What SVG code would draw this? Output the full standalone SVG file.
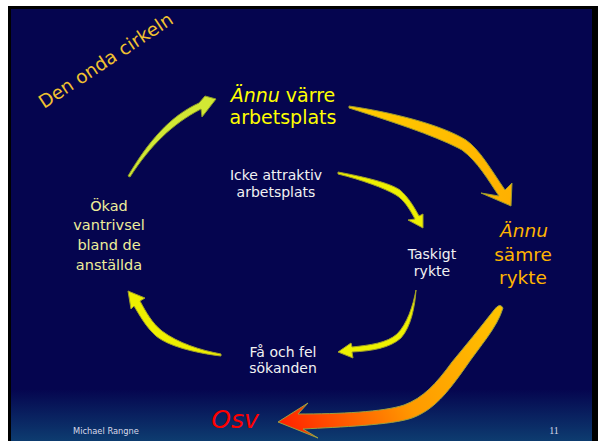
<svg xmlns="http://www.w3.org/2000/svg" width="598" height="441" viewBox="0 0 598 441">
<defs>
<linearGradient id="bg" x1="0" y1="0" x2="0" y2="1">
<stop offset="0" stop-color="#05054f"/>
<stop offset="0.88" stop-color="#05054f"/>
<stop offset="1" stop-color="#0d3c70"/>
</linearGradient>
<linearGradient id="gBig" gradientUnits="userSpaceOnUse" x1="500" y1="308" x2="280" y2="422">
<stop offset="0" stop-color="#ffc400"/>
<stop offset="0.5" stop-color="#ff9a00"/>
<stop offset="1" stop-color="#ff2200"/>
</linearGradient>
<linearGradient id="gTop" gradientUnits="userSpaceOnUse" x1="349" y1="107" x2="510" y2="205">
<stop offset="0" stop-color="#ffcc00"/>
<stop offset="1" stop-color="#ffb000"/>
</linearGradient>
<style>
.t{font-family:"DejaVu Sans","Liberation Sans",sans-serif;text-anchor:middle}
.w{fill:#f2f2f2;font-size:14px}
.pale{fill:#eeee9a;font-size:14.5px}
.yel{fill:#ffff00;font-size:19px}
.org{fill:#ffb400;font-size:18.5px}
.it{font-style:italic}
.ay{fill:#eef000;stroke:#a0a028;stroke-width:1}
.ag{fill:#d2e834;stroke:#8a9a2a;stroke-width:1}
</style>
</defs>
<rect x="0" y="0" width="598" height="441" fill="#ffffff"/>
<rect x="8" y="6" width="590" height="435" fill="#000000"/>
<rect x="11" y="9" width="581" height="432" fill="url(#bg)"/>

<g id="title">
<text class="t" x="0" y="0" transform="translate(44,109) rotate(-33.5)" style="text-anchor:start;fill:#f2c230;font-size:18.5px">Den onda cirkeln</text>
</g>

<g id="connectors">
<path class="ag" d="M128,176 C148,142 170,116 199,103 L205,96 L216,99 L202,117 L201,109 C172,124 150,146 130,177 Z"/>
<path d="M349,106 C390,112 440,124 466,140 C480,150 490,168 505,190 L512,183 L511,206 L481,193 L499,196 C488,180 478,162 462,150 C440,138 400,124 349,108 Z" fill="url(#gTop)" stroke="#9a9a30" stroke-width="1"/>
<path class="ay" d="M338,172 C365,177 390,183 400,190 C408,197 413,205 419,216 L423,214 L423,228 L408,220 L415,219 C409,208 404,200 396,195 C384,188 362,180 338,174 Z"/>
<path class="ay" d="M416,290 C413,306 407,324 397,334 C387,343 370,345 352,347 L351,343 L338,352 L353,358 L352,352 C372,351 390,348 401,338 C411,327 415,306 416,290 Z"/>
<path class="ay" d="M221,356 C195,353 168,346 156,336 C146,327 140,316 134,306 L131,309 L128,291 L145,298 L140,301 C146,312 152,323 162,331 C178,343 200,350 221,354 Z"/>
<path d="M503,308 Q500,302 494,310 C480,328 466,345 452,362 C436,384 423,398 404,405 C383,412 340,414 298,414 L308,403 L278,422 L318,438 L303,429 C340,427 392,425 412,418 C434,410 448,392 465,368 C480,346 497,328 503,308 Z" fill="url(#gBig)" stroke="#9aa040" stroke-width="1"/>
</g>

<g id="n-annu-varre">
<text class="t yel" x="283" y="102"><tspan class="it">Ännu</tspan> värre</text>
<text class="t yel" x="283" y="124">arbetsplats</text>
</g>

<g id="n-icke">
<text class="t w" x="276" y="180">Icke attraktiv</text>
<text class="t w" x="276" y="197">arbetsplats</text>
</g>

<g id="n-taskigt">
<text class="t w" x="432" y="259">Taskigt</text>
<text class="t w" x="432" y="276">rykte</text>
</g>

<g id="n-annu-samre">
<text class="t org it" x="524" y="237">Ännu</text>
<text class="t org" x="523" y="261">sämre</text>
<text class="t org" x="523" y="284">rykte</text>
</g>

<g id="n-fa">
<text class="t w" x="283" y="357">Få och fel</text>
<text class="t w" x="283" y="373">sökanden</text>
</g>

<g id="n-okad">
<text class="t pale" x="109" y="211">Ökad</text>
<text class="t pale" x="109" y="230">vantrivsel</text>
<text class="t pale" x="109" y="250">bland de</text>
<text class="t pale" x="109" y="270">anställda</text>
</g>

<g id="n-osv">
<text class="t it" x="235" y="428" style="fill:#ff0000;font-size:25px">Osv</text>
</g>

<g id="footer">
<text class="t" x="106" y="434" style="fill:#d8d8e8;font-size:8.3px">Michael Rangne</text>
<text x="554" y="434" style="fill:#d8d8e8;font-size:10px;font-family:'Liberation Serif',serif;text-anchor:middle">11</text>
</g>
</svg>
